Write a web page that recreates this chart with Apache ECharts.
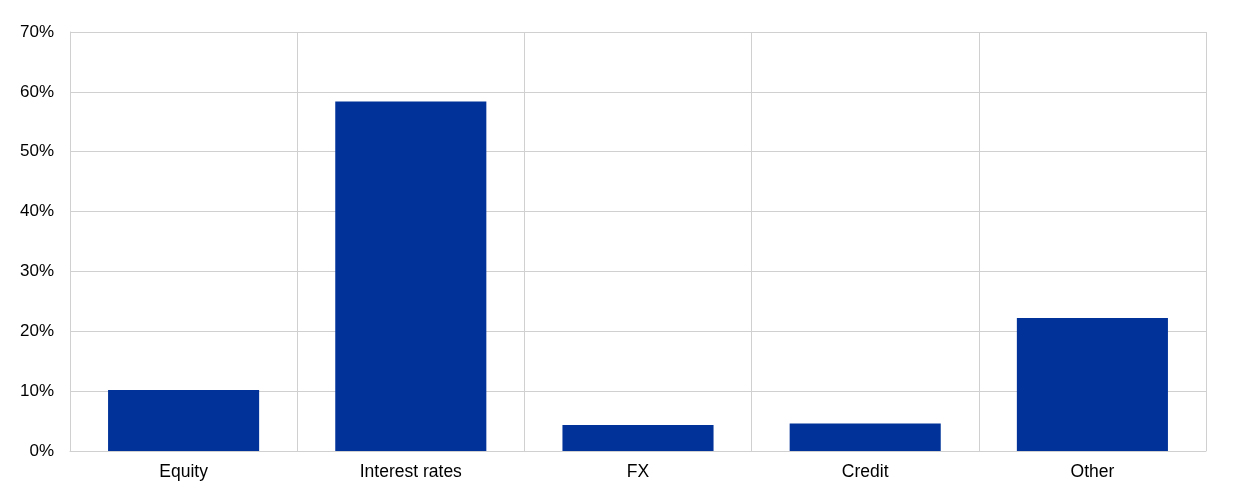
<!DOCTYPE html>
<html>
<head>
<meta charset="utf-8">
<script src="https://cdn.jsdelivr.net/npm/echarts@6/dist/echarts.min.js"></script>
<style>
html,body{margin:0;padding:0;background:#fff;}
#chart{width:1240px;height:502px;}
</style>
</head>
<body>
<div id="chart"></div>
<script>
const categories = ["Equity", "Interest rates", "FX", "Credit", "Other"];
const values = [10.2, 58.4, 4.35, 4.6, 22.2];
const yTicks = { min: 0, max: 70, interval: 10 };

const chart = echarts.init(document.getElementById('chart'), null, { renderer: 'canvas' });
chart.setOption({
  animation: false,
  backgroundColor: '#ffffff',
  grid: { left: 70, right: 34, top: 32, bottom: 51, containLabel: false },
  xAxis: {
    type: 'category',
    data: categories,
    axisLine: { show: true, lineStyle: { color: '#d0d0d0', width: 1 } },
    axisTick: { show: false },
    splitLine: { show: true, lineStyle: { color: '#d0d0d0', width: 1 } },
    axisLabel: { color: '#000', fontFamily: 'Liberation Sans, Arial, sans-serif', fontSize: 17.5, margin: 12 }
  },
  yAxis: {
    type: 'value',
    min: yTicks.min, max: yTicks.max, interval: yTicks.interval,
    axisLine: { show: true, lineStyle: { color: '#d0d0d0', width: 1 } },
    axisTick: { show: false },
    splitLine: { show: true, lineStyle: { color: '#d0d0d0', width: 1 } },
    axisLabel: { color: '#000', fontFamily: 'Liberation Sans, Arial, sans-serif', fontSize: 17, margin: 16, formatter: v => v + '%' }
  },
  series: [{
    type: 'bar',
    data: values,
    barWidth: '66.5%',
    itemStyle: { color: '#003299' }
  }]
});
</script>
</body>
</html>
